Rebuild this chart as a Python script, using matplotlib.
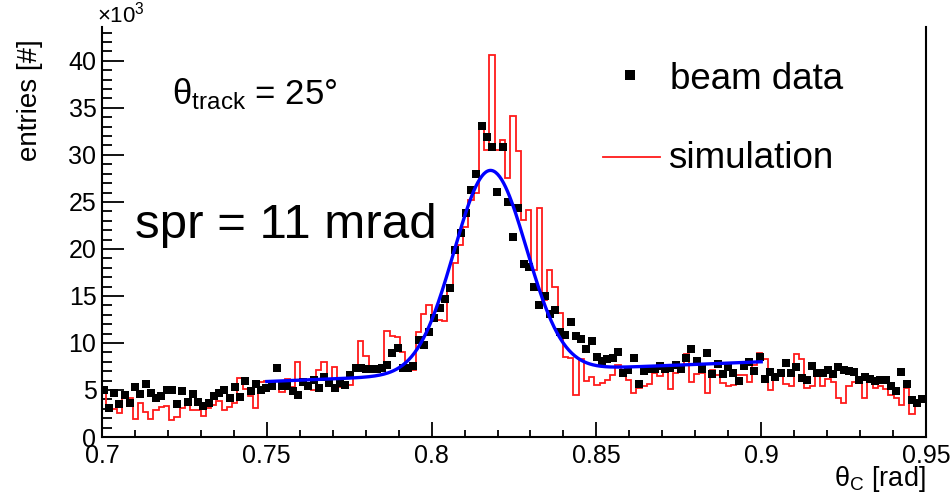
import numpy as np
import matplotlib
matplotlib.use("Agg")
import matplotlib.pyplot as plt
from matplotlib.lines import Line2D
from matplotlib.ticker import MultipleLocator, FixedLocator, FixedFormatter

plt.rcParams['font.family'] = ['Liberation Sans', 'DejaVu Sans']
plt.rcParams['mathtext.fontset'] = 'custom'
plt.rcParams['mathtext.rm'] = 'Liberation Sans'
plt.rcParams['mathtext.it'] = 'Liberation Sans:italic'

# ---------------- data (entries in units of 10^3) ----------------
bin_low, bin_high = 0.6997, 0.9497

beam_data = [5.0, 3.05, 4.65, 3.47, 4.47, 3.65, 5.28, 4.57, 5.64, 4.68, 4.11, 4.4,
             5.0, 5.0, 3.47, 4.89, 3.76, 4.54, 3.76, 3.33, 3.58, 4.4, 4.72, 5.0,
             4.18, 5.35, 4.29, 5.96, 4.93, 5.6, 5.0, 5.18,
             5.43, 7.3, 5.43, 5.43, 4.93, 4.47, 5.88, 5.43, 6.06, 5.18, 6.35, 5.71,
             5.18, 5.71, 5.53, 6.6, 7.3, 7.3, 7.25, 7.25, 7.25, 7.3, 7.62, 8.97,
             9.5, 7.3, 7.3, 7.55, 10.3, 9.8, 11.2,
             12.7, 13.75, 14.7, 15.8, 19.9, 21.7, 23.8, 26.3, 28.0, 33.1, 31.9, 30.8,
             26.1, 30.8, 25.0, 21.3, 24.4, 18.4, 18.1, 15.9, 14.0, 15.0, 13.05, 13.5,
             11.2, 10.85, 12.2, 10.7, 10.4, 9.4, 10.2, 8.5, 8.1, 8.3, 8.4, 9.0,
             6.8, 7.1, 8.4, 5.6, 7.05, 7.2, 7.2, 7.5, 7.2, 7.3, 7.7, 7.2,
             8.4, 9.4, 8.1, 7.2, 8.9, 6.7, 7.8, 6.7, 7.4, 6.8, 6.0, 7.5,
             8.0, 7.05, 8.5, 6.2, 6.95, 6.35, 6.8, 7.9, 6.85, 7.4, 6.3, 6.1,
             7.55, 6.8, 6.8, 7.1, 6.7, 7.4, 7.1, 7.05, 6.9, 6.05, 6.4, 6.15,
             6.0, 6.05, 6.05, 5.4, 4.9, 6.95, 5.6, 3.9, 3.65, 4.05]

simulation = [5.3, 2.9, 3.0, 2.5, 4.1, 4.1, 1.9, 3.65, 2.7, 1.9, 2.9, 3.2,
              3.3, 1.8, 2.1, 3.1, 3.5, 2.9, 2.9, 2.2, 3.1, 3.4, 3.8, 2.9,
              3.2, 3.65, 6.3, 5.1, 4.4, 3.1, 5.9, 6.0,
              5.96, 5.96, 4.8, 6.2, 5.3, 7.95, 5.5, 5.2, 5.0, 7.15, 8.0, 5.7,
              7.4, 5.3, 5.3, 5.5, 7.6, 10.2, 8.6, 7.6, 7.3, 7.3, 11.3, 10.75,
              10.6, 9.0, 7.3, 7.15, 11.2, 13.1, 14.0,
              12.6, 12.4, 12.3, 15.8, 18.5, 20.4, 22.3, 25.2, 25.9, 33.0, 30.5, 40.6,
              30.5, 31.6, 27.5, 34.1, 30.4, 23.1, 24.1, 17.8, 24.4, 14.6, 17.8, 16.0,
              13.2, 8.5, 8.4, 4.5,
              8.3, 6.0, 6.35, 5.5, 5.7, 6.06, 6.6, 7.7, 6.7, 6.06, 4.7, 5.2,
              5.4, 5.6, 6.85, 6.5, 6.95, 5.07, 6.8, 7.2, 8.8, 5.8, 6.7, 6.85,
              4.7, 7.1, 6.6, 5.7, 5.4,
              5.5, 6.6, 6.6, 5.9, 7.66, 8.9, 8.3, 5.0, 6.2, 6.6, 5.6, 5.4,
              8.8, 8.3, 5.2, 5.4, 6.6, 5.4, 6.2, 5.8, 4.2, 3.6, 5.4, 5.9,
              5.9, 4.2, 5.9, 5.2, 5.4, 5.1, 4.5, 4.2, 3.4, 5.2, 2.45, 3.4, 3.9]

# fit: gaussian + linear background
fit_amplitude = 21.5
fit_mean = 0.8178
fit_sigma = 0.011
fit_bg_ref_x = 0.75
fit_bg_ref_y = 5.9
fit_bg_slope = 14.0
fit_range = (0.75, 0.90)

x_ticks = [0.7, 0.75, 0.8, 0.85, 0.9, 0.95]
x_tick_labels = ["0.7", "0.75", "0.8", "0.85", "0.9", "0.95"]
y_ticks = [0, 5, 10, 15, 20, 25, 30, 35, 40]
y_tick_labels = ["0", "5", "10", "15", "20", "25", "30", "35", "40"]

# ---------------- figure ----------------
W, H = 950, 494
fig = plt.figure(figsize=(W / 100, H / 100), dpi=100)
ax = fig.add_axes([102 / W, 1 - 437 / H, (926 - 102) / W, (437 - 27) / H])

edges = np.linspace(bin_low, bin_high, len(beam_data) + 1)
centers = 0.5 * (edges[:-1] + edges[1:])

ax.stairs(simulation, edges, baseline=None, color='#ff1a1a', lw=1.3, zorder=2)
ax.plot(centers, beam_data, ls='none', marker='s', ms=5.3, color='black',
        markeredgewidth=0, zorder=3)
xf = np.linspace(fit_range[0], fit_range[1], 500)
yf = (fit_bg_ref_y + fit_bg_slope * (xf - fit_bg_ref_x)
      + fit_amplitude * np.exp(-0.5 * ((xf - fit_mean) / fit_sigma) ** 2))
ax.plot(xf, yf, color='#0000ff', lw=2.4, zorder=4)

ax.set_xlim(0.7, 0.95)
ax.set_ylim(0, 43.6)

ax.xaxis.set_major_locator(FixedLocator(x_ticks))
ax.xaxis.set_major_formatter(FixedFormatter(x_tick_labels))
ax.xaxis.set_minor_locator(MultipleLocator(0.01))
ax.yaxis.set_major_locator(FixedLocator(y_ticks))
ax.yaxis.set_major_formatter(FixedFormatter(y_tick_labels))
ax.yaxis.set_minor_locator(MultipleLocator(1))

ax.tick_params(axis='both', which='both', direction='in', width=1.3,
               labelsize=18, top=False, right=False)
ax.tick_params(axis='x', which='major', length=11, pad=5)
ax.tick_params(axis='x', which='minor', length=5)
ax.tick_params(axis='y', which='major', length=16, pad=4)
ax.tick_params(axis='y', which='minor', length=7.5)

for s in ['left', 'bottom', 'right']:
    ax.spines[s].set_linewidth(1.5)
ax.spines['top'].set_visible(False)

# axis titles
fig.text(30 / W, 1 - 39 / H, "entries [#]", rotation=90, ha='center', va='top',
         fontsize=20)
fig.text(926 / W, 1 - 486 / H, r"$\mathrm{θ}_{\mathrm{C}}$ [rad]", ha='right',
         va='baseline', fontsize=19.5)
fig.text(97 / W, 1 - 23 / H, r"×10$^{3}$", ha='left', va='baseline', fontsize=16)

# annotations
fig.text(172 / W, 1 - 104 / H, r"$\mathrm{θ}_{\mathrm{track}}$ = 25°", ha='left',
         va='baseline', fontsize=25)
fig.text(135 / W, 1 - 238 / H, "spr = 11 mrad", ha='left', va='baseline',
         fontsize=35.5)

# legend
fig.add_artist(Line2D([630 / W], [1 - 75 / H], marker='s', ms=6.5, color='black',
                      ls='none', markeredgewidth=0, transform=fig.transFigure))
fig.text(670 / W, 1 - 89 / H, "beam data", ha='left', va='baseline', fontsize=26.5)
fig.add_artist(Line2D([603 / W, 660 / W], [1 - 157 / H, 1 - 157 / H], color='#ff1a1a',
                      lw=1.3, transform=fig.transFigure))
fig.text(668 / W, 1 - 168 / H, "simulation", ha='left', va='baseline', fontsize=26.5)

fig.savefig("out.png", dpi=100)
